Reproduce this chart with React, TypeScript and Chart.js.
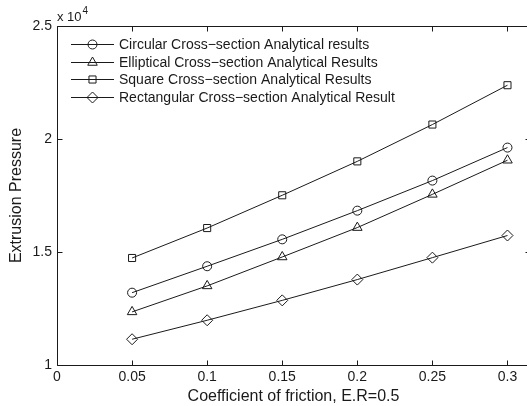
import React, { useEffect, useRef } from "react";
import { Chart, registerables } from "chart.js";

Chart.register(...registerables);

const frictionCoefficients = [0.05, 0.1, 0.15, 0.2, 0.25, 0.3];
const circularResults = [13200, 14370, 15560, 16830, 18160, 19620];
const ellipticalResults = [12350, 13500, 14780, 16080, 17550, 19060];
const squareResults = [14735, 16060, 17510, 19010, 20640, 22380];
const rectangularResults = [11140, 11980, 12860, 13780, 14750, 15730];

const seriesLabels = [
  "Circular Cross\u2212section Analytical results",
  "Elliptical Cross\u2212section Analytical Results",
  "Square Cross\u2212section Analytical Results",
  "Rectangular Cross\u2212section Analytical Result",
];
const xTitle = "Coefficient of friction, E.R=0.5";
const yTitle = "Extrusion Pressure";

const FONT = '"Liberation Sans", Arial, Helvetica, sans-serif';
const INK = "#1a1a1a";

type Style = "circle" | "triangle" | "rect" | "rectRot";
const styles: Style[] = ["circle", "triangle", "rect", "rectRot"];
const radii = [4.5, 5.5, 5, 5.5];

function drawMarker(ctx: CanvasRenderingContext2D, style: Style, x: number, y: number, r: number) {
  ctx.beginPath();
  if (style === "circle") {
    ctx.arc(x, y, r, 0, Math.PI * 2);
  } else if (style === "triangle") {
    for (let i = 0; i < 3; i++) {
      const a = (i * 2 * Math.PI) / 3;
      const px = x + Math.sin(a) * r;
      const py = y - Math.cos(a) * r;
      if (i === 0) ctx.moveTo(px, py);
      else ctx.lineTo(px, py);
    }
    ctx.closePath();
  } else if (style === "rect") {
    const s = Math.SQRT1_2 * r;
    ctx.rect(x - s, y - s, 2 * s, 2 * s);
  } else {
    ctx.moveTo(x, y - r);
    ctx.lineTo(x + r, y);
    ctx.lineTo(x, y + r);
    ctx.lineTo(x - r, y);
    ctx.closePath();
  }
  ctx.stroke();
}

const framePlugin = {
  id: "matlabFrame",
  afterDraw(chart: any) {
    const ctx: CanvasRenderingContext2D = chart.ctx;
    const { left, right, top, bottom } = chart.chartArea;
    const xs = chart.scales.x;
    const ys = chart.scales.y;
    ctx.save();
    ctx.strokeStyle = INK;
    ctx.lineWidth = 1;
    const L = Math.round(left) + 0.5;
    const R = Math.round(right) + 0.5;
    const T = Math.round(top) + 0.5;
    const B = Math.round(bottom) + 0.5;
    ctx.beginPath();
    ctx.moveTo(L, T);
    ctx.lineTo(R, T);
    ctx.lineTo(R, B);
    ctx.lineTo(L, B);
    ctx.closePath();
    ctx.stroke();
    const tl = 5;
    ctx.beginPath();
    xs.ticks.forEach((t: any) => {
      const px = Math.round(xs.getPixelForValue(t.value)) + 0.5;
      ctx.moveTo(px, B);
      ctx.lineTo(px, B - tl);
      ctx.moveTo(px, T);
      ctx.lineTo(px, T + tl);
    });
    ys.ticks.forEach((t: any) => {
      const py = Math.round(ys.getPixelForValue(t.value)) + 0.5;
      ctx.moveTo(L, py);
      ctx.lineTo(L + tl, py);
      ctx.moveTo(R, py);
      ctx.lineTo(R - tl, py);
    });
    ctx.stroke();

    // exponent label
    ctx.fillStyle = INK;
    ctx.textBaseline = "alphabetic";
    ctx.textAlign = "left";
    ctx.font = `13px ${FONT}`;
    ctx.fillText("x 10", left, top - 5);
    const w = ctx.measureText("x 10").width;
    ctx.font = `10px ${FONT}`;
    ctx.fillText("4", left + w + 1, top - 12);

    // legend
    ctx.font = `14px ${FONT}`;
    ctx.textBaseline = "middle";
    for (let i = 0; i < seriesLabels.length; i++) {
      const y = Math.round(44 + i * 17.6) + 0.5;
      ctx.beginPath();
      ctx.moveTo(71, y);
      ctx.lineTo(114, y);
      ctx.stroke();
      drawMarker(ctx, styles[i], 92.5, y, radii[i]);
      ctx.fillText(seriesLabels[i], 119, y + 0.5);
    }
    ctx.restore();
  },
};

export default function App() {
  const ref = useRef<HTMLCanvasElement | null>(null);
  useEffect(() => {
    if (!ref.current) return;
    const series = [circularResults, ellipticalResults, squareResults, rectangularResults];
    const chart = new Chart(ref.current, {
      type: "line",
      data: {
        datasets: series.map((vals, i) => ({
          label: seriesLabels[i],
          data: frictionCoefficients.map((x, j) => ({ x, y: vals[j] })),
          borderColor: INK,
          backgroundColor: "rgba(0,0,0,0)",
          borderWidth: 1,
          pointStyle: styles[i],
          pointRadius: radii[i],
          pointBorderColor: INK,
          pointBackgroundColor: "rgba(0,0,0,0)",
          pointBorderWidth: 1,
          tension: 0,
        })),
      },
      options: {
        animation: false,
        responsive: false,
        devicePixelRatio: 1,
        layout: { padding: { left: 0, top: 26, right: 30, bottom: 0 } },
        plugins: {
          legend: { display: false },
          tooltip: { enabled: false },
        },
        scales: {
          x: {
            type: "linear",
            min: 0,
            max: 0.315,
            grid: { display: false, drawTicks: false },
            border: { display: false },
            ticks: {
              stepSize: 0.05,
              includeBounds: false,
              padding: 4,
              color: INK,
              font: { family: FONT, size: 14 },
              callback: (v: any) => String(Math.round(Number(v) * 100) / 100),
            },
            title: {
              display: true,
              text: xTitle,
              color: INK,
              font: { family: FONT, size: 16 },
              padding: { top: 0, bottom: 0 },
            },
            afterFit: (s: any) => {
              s.height = 41;
            },
          },
          y: {
            type: "linear",
            min: 10000,
            max: 25000,
            grid: { display: false, drawTicks: false },
            border: { display: false },
            ticks: {
              stepSize: 5000,
              padding: 5,
              color: INK,
              font: { family: FONT, size: 14 },
              callback: (v: any) => String(Math.round(Number(v) / 1000) / 10),
            },
            title: {
              display: true,
              text: yTitle,
              color: INK,
              font: { family: FONT, size: 16 },
              padding: { top: 7, bottom: 0 },
            },
            afterFit: (s: any) => {
              s.width = 57;
            },
          },
        },
      },
      plugins: [framePlugin],
    });
    return () => chart.destroy();
  }, []);
  return (
    <div
      style={{
        position: "fixed",
        left: 0,
        top: 0,
        width: 527,
        height: 406,
        overflow: "hidden",
        background: "#fff",
      }}
    >
      <canvas ref={ref} width={560} height={406} style={{ display: "block" }} />
    </div>
  );
}
